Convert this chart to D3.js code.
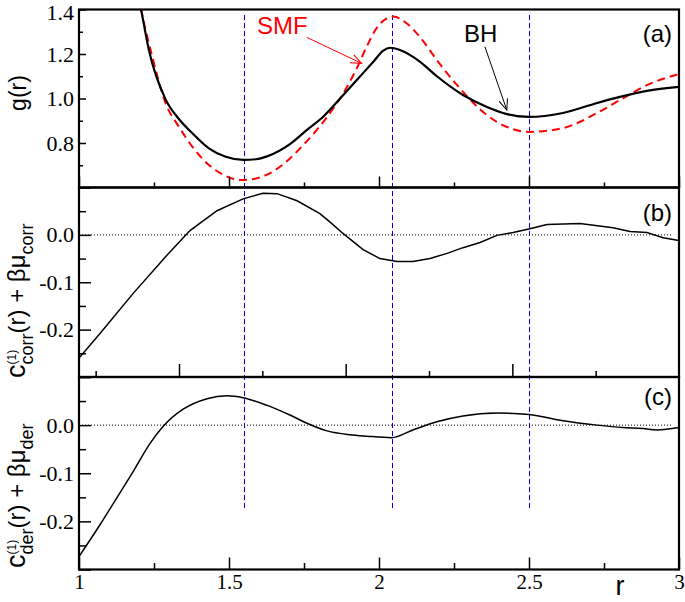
<!DOCTYPE html>
<html>
<head>
<meta charset="utf-8">
<script src="https://cdn.jsdelivr.net/npm/d3@7"></script>
<style>
body { margin: 0; background: #fff; }
svg { display: block; }
.tick text { font-family: "Liberation Serif", "DejaVu Serif", serif; }
</style>
</head>
<body>
<svg id="chart" width="685" height="602"></svg>
<script>
// panel (a): g(r), BH (solid) and SMF (dashed)
var bhR  = [1.19, 1.207, 1.233, 1.289, 1.333, 1.378, 1.433, 1.489, 1.548, 1.59, 1.627, 1.703, 1.759, 1.814, 1.881, 1.926, 1.981, 2.014, 2.037, 2.07, 2.137, 2.193, 2.28, 2.36, 2.427, 2.5, 2.613, 2.727, 2.803, 2.893, 3.0];
var bhG  = [1.52, 1.40, 1.218, 0.995, 0.908, 0.844, 0.776, 0.738, 0.724, 0.727, 0.740, 0.795, 0.858, 0.918, 1.016, 1.083, 1.165, 1.215, 1.228, 1.218, 1.165, 1.10, 1.016, 0.962, 0.930, 0.917, 0.935, 0.98, 1.007, 1.034, 1.052];
var smfR = [1.19, 1.207, 1.242, 1.289, 1.333, 1.378, 1.433, 1.489, 1.537, 1.57, 1.627, 1.703, 1.737, 1.792, 1.848, 1.881, 1.926, 1.959, 1.992, 2.026, 2.048, 2.092, 2.131, 2.2, 2.27, 2.36, 2.427, 2.5, 2.613, 2.727, 2.803, 2.893, 3.0];
var smfG = [1.52, 1.40, 1.20, 0.978, 0.873, 0.783, 0.701, 0.652, 0.634, 0.636, 0.658, 0.73, 0.776, 0.858, 0.956, 1.023, 1.136, 1.233, 1.316, 1.36, 1.368, 1.338, 1.285, 1.16, 1.045, 0.925, 0.872, 0.85, 0.867, 0.935, 0.993, 1.06, 1.11];

// panel (b): c_corr + beta mu_corr
var corrR = [1.0, 1.07, 1.18, 1.293, 1.37, 1.46, 1.547, 1.613, 1.66, 1.727, 1.803, 1.837, 1.88, 1.947, 2.003, 2.06, 2.113, 2.17, 2.227, 2.28, 2.337, 2.393, 2.447, 2.503, 2.56, 2.67, 2.78, 2.837, 2.893, 2.947, 3.0];
var corrV = [-0.26, -0.208, -0.124, -0.043, 0.009, 0.051, 0.076, 0.088, 0.087, 0.072, 0.045, 0.027, 0.003, -0.031, -0.05, -0.056, -0.056, -0.05, -0.039, -0.027, -0.016, -0.001, 0.005, 0.013, 0.022, 0.024, 0.015, 0.007, 0.005, -0.006, -0.012];

// panel (c): c_der + beta mu_der
var derR = [1.0, 1.07, 1.127, 1.18, 1.237, 1.28, 1.347, 1.427, 1.493, 1.547, 1.627, 1.703, 1.76, 1.827, 1.903, 1.96, 2.042, 2.113, 2.193, 2.28, 2.393, 2.5, 2.613, 2.727, 2.813, 2.88, 2.927, 3.0];
var derV = [-0.273, -0.207, -0.150, -0.097, -0.038, -0.003, 0.033, 0.055, 0.061, 0.057, 0.041, 0.021, 0.004, -0.012, -0.020, -0.023, -0.026, -0.010, 0.007, 0.019, 0.025, 0.022, 0.009, 0.0, -0.005, -0.007, -0.01, -0.005];

// positions of the peaks / minima marked by blue lines
var peakR = [1.55, 2.042, 2.5];

var rTicks = [1, 1.5, 2, 2.5, 3], rTickLabels = ["1", "1.5", "2", "2.5", "3"];
var rMinor = [1.25, 1.75, 2.25, 2.75];
var gTicks = [0.8, 1.0, 1.2, 1.4], gTickLabels = ["0.8", "1.0", "1.2", "1.4"];
var gMinor = [0.7, 0.9, 1.1, 1.3];
var cTicks = [-0.2, -0.1, 0.0], cTickLabels = ["-0.2", "-0.1", "0.0"];
var cMinor = [-0.25, -0.15, -0.05, 0.05];

var svg = d3.select("#chart");
var serif = "Liberation Serif, DejaVu Serif, serif",
    sans = "Liberation Sans, Arial, sans-serif";

var left = 79, right = 679;
var x = d3.scaleLinear().domain([1, 3]).range([left, right]),
    xMid = d3.scaleLinear().domain([1.2, 3]).range([left, right]),   // panel (b) has its own tick layout
    yA = d3.scaleLinear().domain([0.6, 1.4]).range([187.5, 9.5]),
    yB = d3.scaleLinear().domain([-0.3, 0.1]).range([377, 187.5]),
    yC = d3.scaleLinear().domain([-0.3, 0.1]).range([569.5, 377]);

svg.append("rect").attr("width", 685).attr("height", 602).attr("fill", "#fff");

var defs = svg.append("defs");
[["clipA", yA], ["clipB", yB], ["clipC", yC]].forEach(function(c) {
  var r = c[1].range();
  defs.append("clipPath").attr("id", c[0]).append("rect")
      .attr("x", left).attr("y", r[1]).attr("width", right - left).attr("height", r[0] - r[1]);
});
[["arrRed", "#ff0000"], ["arrBlack", "#000"]].forEach(function(m) {
  defs.append("marker").attr("id", m[0]).attr("markerUnits", "userSpaceOnUse")
      .attr("viewBox", "0 0 12 10").attr("refX", 11).attr("refY", 5)
      .attr("markerWidth", 12).attr("markerHeight", 10).attr("orient", "auto")
    .append("path").attr("d", "M0,0.5 L11,5 L0,9.5")
      .attr("fill", "none").attr("stroke", m[1]).attr("stroke-width", 1);
});

// blue dashed markers through all panels
svg.append("g").selectAll("line").data(peakR).enter().append("line")
    .attr("x1", function(d) { return Math.round(x(d)) + 0.5; })
    .attr("x2", function(d) { return Math.round(x(d)) + 0.5; })
    .attr("y1", yA(1.375)).attr("y2", yC(-0.172))
    .attr("stroke", "#0000ee").attr("stroke-width", 1).attr("stroke-dasharray", "5,3")
    .attr("shape-rendering", "crispEdges");

// dotted zero lines
[yB, yC].forEach(function(y) {
  svg.append("line").attr("x1", x(1.01)).attr("x2", x(2.98))
      .attr("y1", y(0)).attr("y2", y(0))
      .attr("stroke", "#000").attr("stroke-width", 1).attr("stroke-dasharray", "1,2");
});

function curve(rs, vs, y, clip, kind) {
  return svg.append("path")
      .datum(d3.zip(rs, vs))
      .attr("clip-path", "url(#" + clip + ")")
      .attr("fill", "none")
      .attr("d", d3.line().x(function(d) { return x(d[0]); }).y(function(d) { return y(d[1]); }).curve(kind));
}

curve(smfR, smfG, yA, "clipA", d3.curveMonotoneX)
    .attr("stroke", "#ff0000").attr("stroke-width", 2).attr("stroke-dasharray", "8,5");
curve(bhR, bhG, yA, "clipA", d3.curveMonotoneX)
    .attr("stroke", "#000").attr("stroke-width", 2.2);
curve(corrR, corrV, yB, "clipB", d3.curveLinear)
    .attr("stroke", "#000").attr("stroke-width", 1.5);
curve(derR, derV, yC, "clipC", d3.curveMonotoneX)
    .attr("stroke", "#000").attr("stroke-width", 1.5);

// axes: all ticks point inward
function axis(gen, scale, vals, size, at, labels, font, pad) {
  var a = gen(scale).tickValues(vals).tickSizeInner(-size).tickSizeOuter(0)
      .tickPadding(pad || 5)
      .tickFormat(function(d, i) { return labels ? labels[i] : ""; });
  var g = svg.append("g").attr("transform", at).call(a)
      .attr("font-family", serif).attr("font-size", font || 22);
  g.select(".domain").remove();
  g.selectAll("line").attr("stroke", "#000").attr("stroke-width", 1.5);
  g.selectAll("text").attr("fill", "#000");
  return g;
}

// (a)
axis(d3.axisLeft, yA, gTicks, 7, "translate(" + left + ",0)", gTickLabels, 22)
    .selectAll("text").filter(function(d) { return d === 1.4; }).attr("dy", "0.45em");  // keep top label inside the page
axis(d3.axisLeft, yA, gMinor, 4, "translate(" + left + ",0)");
axis(d3.axisBottom, x, rTicks, 11, "translate(0," + yA.range()[0] + ")");
axis(d3.axisBottom, x, rMinor, 5, "translate(0," + yA.range()[0] + ")");
// (b)
axis(d3.axisLeft, yB, cTicks.concat([-0.3, 0.1]), 12, "translate(" + left + ",0)", cTickLabels.concat(["", ""]), 22);
axis(d3.axisLeft, yB, cMinor, 7, "translate(" + left + ",0)");
axis(d3.axisBottom, xMid, [1.5, 2, 2.5], 13, "translate(0," + yB.range()[0] + ")");
axis(d3.axisBottom, xMid, rMinor, 6, "translate(0," + yB.range()[0] + ")");
// (c)
axis(d3.axisLeft, yC, cTicks.concat([-0.3, 0.1]), 12, "translate(" + left + ",0)", cTickLabels.concat(["", ""]), 22);
axis(d3.axisLeft, yC, cMinor, 7, "translate(" + left + ",0)");
axis(d3.axisBottom, x, rTicks, 12, "translate(0," + yC.range()[0] + ")", rTickLabels, 21, 5);
axis(d3.axisBottom, x, rMinor, 6.5, "translate(0," + yC.range()[0] + ")");

// frames
[yA, yB, yC].forEach(function(y) {
  var r = y.range();
  svg.append("rect").attr("x", left).attr("y", r[1])
      .attr("width", right - left).attr("height", r[0] - r[1])
      .attr("fill", "none").attr("stroke", "#000").attr("stroke-width", 2.2);
});

// titles
svg.append("text").attr("transform", "translate(26,93) rotate(-90)")
    .attr("text-anchor", "middle").attr("font-family", sans).attr("font-size", 23).text("g(r)");

function cLabel(sub, bottom) {
  var t = svg.append("text")
      .attr("font-family", sans).attr("font-size", 24).attr("fill", "#000");
  t.append("tspan").attr("font-size", 27).text("c");
  var s1 = t.append("tspan").attr("font-size", 18).attr("dy", 8).text(sub);
  var s2 = t.append("tspan").attr("font-size", 12).text("(1)");
  var w1 = s1.node().getComputedTextLength(), w2 = s2.node().getComputedTextLength();
  s2.attr("dx", -w1).attr("dy", -17);
  t.append("tspan").attr("dx", w1 - w2).attr("dy", 9).text("(r) + βμ");
  t.append("tspan").attr("font-size", 18).attr("dy", 8).text(sub);
  t.attr("transform", "translate(25," + bottom + ") rotate(-90)");
}
cLabel("corr", 378);
cLabel("der", 568);

svg.append("text").attr("x", 620).attr("y", 595).attr("text-anchor", "middle")
    .attr("font-family", sans).attr("font-size", 27).text("r");

[["(a)", 42], ["(b)", 221], ["(c)", 405]].forEach(function(p) {
  svg.append("text").attr("x", 672).attr("y", p[1]).attr("text-anchor", "end")
      .attr("font-family", sans).attr("font-size", 24).text(p[0]);
});

// annotations
svg.append("text").attr("x", x(1.593)).attr("y", yA(1.29))
    .attr("font-family", sans).attr("font-size", 24).attr("fill", "#ff0000").text("SMF");
svg.append("line").attr("x1", x(1.759)).attr("y1", yA(1.275)).attr("x2", x(1.942)).attr("y2", yA(1.158))
    .attr("stroke", "#ff0000").attr("stroke-width", 1).attr("marker-end", "url(#arrRed)");
svg.append("text").attr("x", x(2.283)).attr("y", yA(1.254))
    .attr("font-family", sans).attr("font-size", 24).attr("fill", "#000").text("BH");
svg.append("line").attr("x1", x(2.353)).attr("y1", yA(1.233)).attr("x2", x(2.426)).attr("y2", yA(0.948))
    .attr("stroke", "#000").attr("stroke-width", 1).attr("marker-end", "url(#arrBlack)");
</script>
</body>
</html>
